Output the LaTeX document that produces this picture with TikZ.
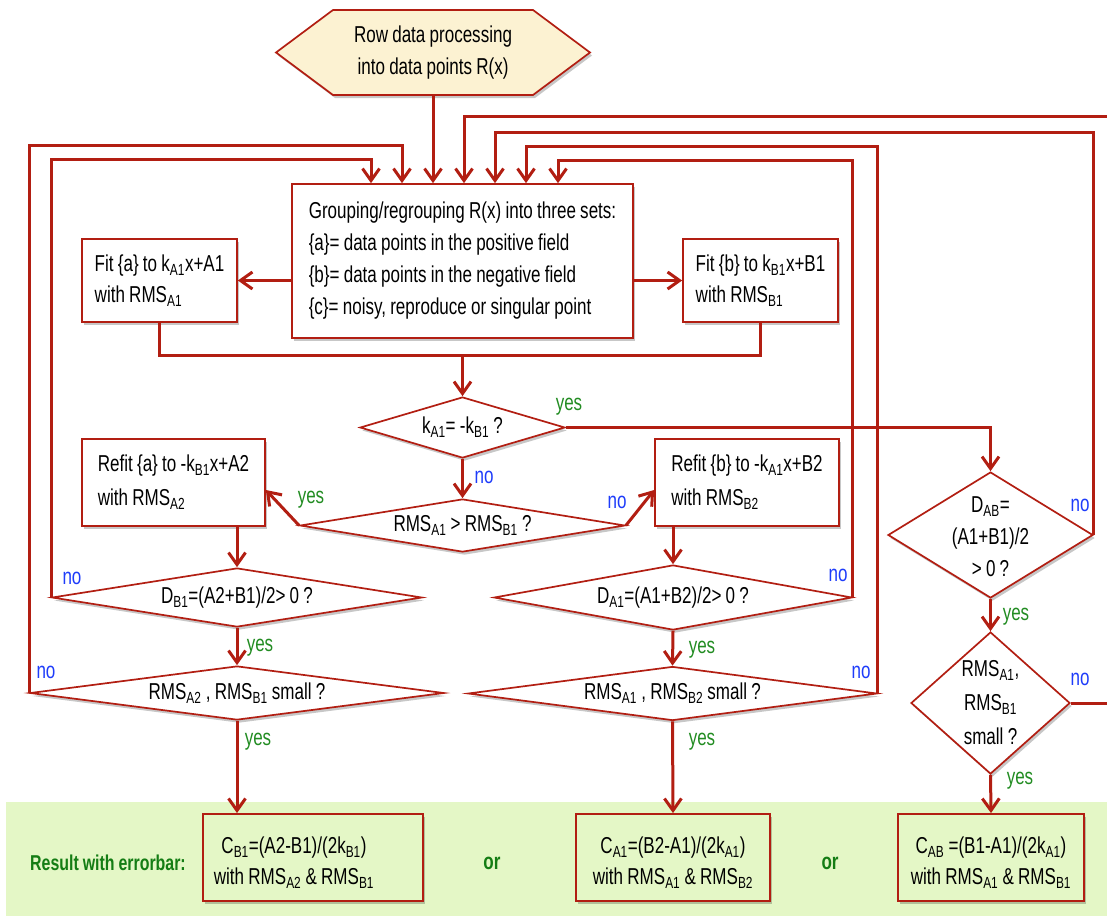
\documentclass[tikz,border=0pt]{standalone}
\usepackage{fontspec}
\setmainfont{Liberation Sans}[FakeStretch=0.74,WordSpace=0.9]
\usetikzlibrary{arrows.meta,shapes.geometric,shadows,calc}

\definecolor{lred}{RGB}{178,30,18}
\definecolor{hexfill}{RGB}{252,242,210}
\definecolor{bandfill}{RGB}{228,247,198}
\definecolor{yesgreen}{RGB}{34,140,34}
\definecolor{noblue}{RGB}{30,60,250}
\definecolor{resgreen}{RGB}{20,125,20}

\newcommand{\sbs}[1]{\textsubscript{#1}}

\begin{document}
\begin{tikzpicture}[x=1pt,y=-1pt,
  font=\fontsize{23}{31}\selectfont,
  shad/.style={drop shadow={shadow xshift=2pt,shadow yshift=-3pt,opacity=.22,fill=black}},
  box/.style={draw=lred,line width=1.7pt,fill=white,inner sep=0pt,shad},
  resbox/.style={draw=lred,line width=1.9pt,fill=bandfill,inner sep=0pt,shad},
  dia/.style={diamond,draw=lred,line width=1.7pt,fill=white,inner sep=0pt,shad},
  conn/.style={draw=lred,line width=3pt},
  arr/.style={conn,-{Straight Barb[length=12pt,width=17pt]}},
  yes/.style={text=yesgreen,inner sep=0pt},
  no/.style={text=noblue,inner sep=0pt},
  plain/.style={inner sep=0pt,align=center},
]
\useasboundingbox (0,0) rectangle (1107,916);
\clip (0,0) rectangle (1107,916);

% result band
\fill[bandfill] (6,802) rectangle (1107,916);

% start hexagon
\filldraw[draw=lred,fill=hexfill,line width=1.7pt,shad]
  (276,52.5) -- (333,10) -- (533,10) -- (590,52.5) -- (533,95) -- (333,95) -- cycle;
\node[plain,minimum width=314pt,minimum height=85pt,font=\fontsize{23}{32}\selectfont] (hex) at (433,52.5)
  {Row data processing\\into data points R(x)};

% main grouping box
\node[box,minimum width=341pt,minimum height=154pt,align=left,font=\fontsize{23}{32}\selectfont] (main) at (462.5,261)
  {Grouping/regrouping R(x) into three sets:\\
   \{a\}= data points in the positive field\\
   \{b\}= data points in the negative field\\
   \{c\}= noisy, reproduce or singular point};

% fit boxes
\node[box,minimum width=155pt,minimum height=83pt,align=left] (fita) at (159.5,280.5)
  {Fit \{a\} to k\sbs{A1}x+A1\\with RMS\sbs{A1}};
\node[box,minimum width=155pt,minimum height=83pt,align=left] (fitb) at (760.5,280.5)
  {Fit \{b\} to k\sbs{B1}x+B1\\with RMS\sbs{B1}};

% decisions
\node[dia,minimum width=205pt,minimum height=61pt,shape aspect=3.4] (k) at (462.5,427.5)
  {k\sbs{A1}= -k\sbs{B1} ?};
\node[dia,minimum width=325pt,minimum height=53pt,shape aspect=6] (cmp) at (462.5,525.5)
  {RMS\sbs{A1} > RMS\sbs{B1} ?};

% refit boxes
\node[box,minimum width=183pt,minimum height=87pt,align=left,font=\fontsize{23}{34}\selectfont] (refa) at (173.5,482.5)
  {Refit \{a\} to -k\sbs{B1}x+A2\\with RMS\sbs{A2}};
\node[box,minimum width=184pt,minimum height=87pt,align=left,font=\fontsize{23}{34}\selectfont] (refb) at (747,482.5)
  {Refit \{b\} to -k\sbs{A1}x+B2\\with RMS\sbs{B2}};

\node[dia,minimum width=370pt,minimum height=59pt,shape aspect=6] (db1) at (237,597.5)
  {D\sbs{B1}=(A2+B1)/2> 0 ?};
\node[dia,minimum width=414pt,minimum height=54pt,shape aspect=7.5] (sa) at (237,693)
  {RMS\sbs{A2} , RMS\sbs{B1} small ?};
\node[dia,minimum width=358pt,minimum height=65pt,shape aspect=5.5] (da1) at (673,597.5)
  {D\sbs{A1}=(A1+B2)/2> 0 ?};
\node[dia,minimum width=409pt,minimum height=54pt,shape aspect=7.5] (sb) at (672.5,693.5)
  {RMS\sbs{A1} , RMS\sbs{B2} small ?};

\node[dia,minimum width=205pt,minimum height=126pt] (dab) at (990.5,535) {};
\node[plain,font=\fontsize{23}{32}\selectfont] (dabt) at (990.5,537) {D\sbs{AB}=\\(A1+B1)/2\\> 0 ?};
\node[dia,minimum width=159pt,minimum height=142pt] (sc) at (990.5,703) {};
\node[plain,font=\fontsize{23}{34}\selectfont] (sct) at (990.5,703) {RMS\sbs{A1},\\RMS\sbs{B1}\\small ?};

% result boxes
\node[resbox,minimum width=220pt,minimum height=87pt] (res1) at (313,857.5) {};
\node[plain] (res1t) at (294,863) {C\sbs{B1}=(A2-B1)/(2k\sbs{B1})\\with RMS\sbs{A2} \& RMS\sbs{B1}};
\node[resbox,minimum width=194pt,minimum height=87pt] (res2) at (673,857.5) {};
\node[plain] (res2t) at (673,863) {C\sbs{A1}=(B2-A1)/(2k\sbs{A1})\\with RMS\sbs{A1} \& RMS\sbs{B2}};
\node[resbox,minimum width=186pt,minimum height=87pt] (res3) at (991,857.5) {};
\node[plain] (res3t) at (991,863) {C\sbs{AB} =(B1-A1)/(2k\sbs{A1})\\with RMS\sbs{A1} \& RMS\sbs{B1}};

\node[plain,text=resgreen,font=\fontsize{21.5}{24}\selectfont\bfseries] (reslab) at (108,863) {Result with errorbar:};
\node[plain,text=resgreen,font=\fontsize{23}{24}\selectfont\bfseries] (or1) at (492,863) {or};
\node[plain,text=resgreen,font=\fontsize{23}{24}\selectfont\bfseries] (or2) at (830,863) {or};

% connectors
\draw[arr] (hex.south) -- (main.north -| hex.south);
\draw[arr] (main.west |- fita.east) -- (fita.east);
\draw[arr] (main.east |- fitb.west) -- (fitb.west);
\coordinate (join) at (462.5,355);
\draw[conn] (fita.south) |- (join) -| (fitb.south);
\draw[arr] (join) -- (k.north);
\draw[arr] (k.south) -- (cmp.north);
\draw[arr] (k.east) -| (dab.north);
\draw[arr] (cmp.west) -- ([yshift=-7.5pt]refa.east);
\draw[arr] (cmp.east) -- ([yshift=-7.5pt]refb.west);
\draw[arr] (refa.south -| db1.north) -- (db1.north);
\draw[arr] (db1.south) -- (sa.north);
\draw[arr] (sa.south) -- (sa.south |- res1.north);
\draw[arr] (refb.south -| da1.north) -- (da1.north);
\draw[arr] (da1.south) -- (sb.north);
\draw[arr] (sb.south) -- (res2.north);
\draw[arr] (dab.south) -- (sc.north);
\draw[arr] (sc.south) -- (res3.north);

% feedback loops
\draw[arr] (sa.west) |- (402,145) -- (main.north -| 402,0);
\draw[arr] (db1.west) |- (371,159) -- (main.north -| 371,0);
\draw[arr] (sc.east) -| (1125,116) -- (464,116) -- (main.north -| 464,0);
\draw[arr] (dab.east) |- (495,132) -- (main.north -| 495,0);
\draw[arr] (sb.east) |- (526,146) -- (main.north -| 526,0);
\draw[arr] (da1.east) |- (558,160) -- (main.north -| 558,0);

% labels
\node[yes] (y1) at (569,407) {yes};
\node[no]  (n1) at (484,477) {no};
\node[yes] (y2) at (311,500) {yes};
\node[no]  (n2) at (617,502) {no};
\node[no]  (n3) at (72,578) {no};
\node[no]  (n4) at (46,672) {no};
\node[yes] (y3) at (260,648) {yes};
\node[yes] (y4) at (258,742) {yes};
\node[no]  (n5) at (838,575) {no};
\node[no]  (n6) at (861,672) {no};
\node[yes] (y5) at (702,650) {yes};
\node[yes] (y6) at (702,742) {yes};
\node[no]  (n7) at (1080,505) {no};
\node[yes] (y7) at (1016,617) {yes};
\node[no]  (n8) at (1080,679) {no};
\node[yes] (y8) at (1020,781) {yes};
\end{tikzpicture}
\end{document}
